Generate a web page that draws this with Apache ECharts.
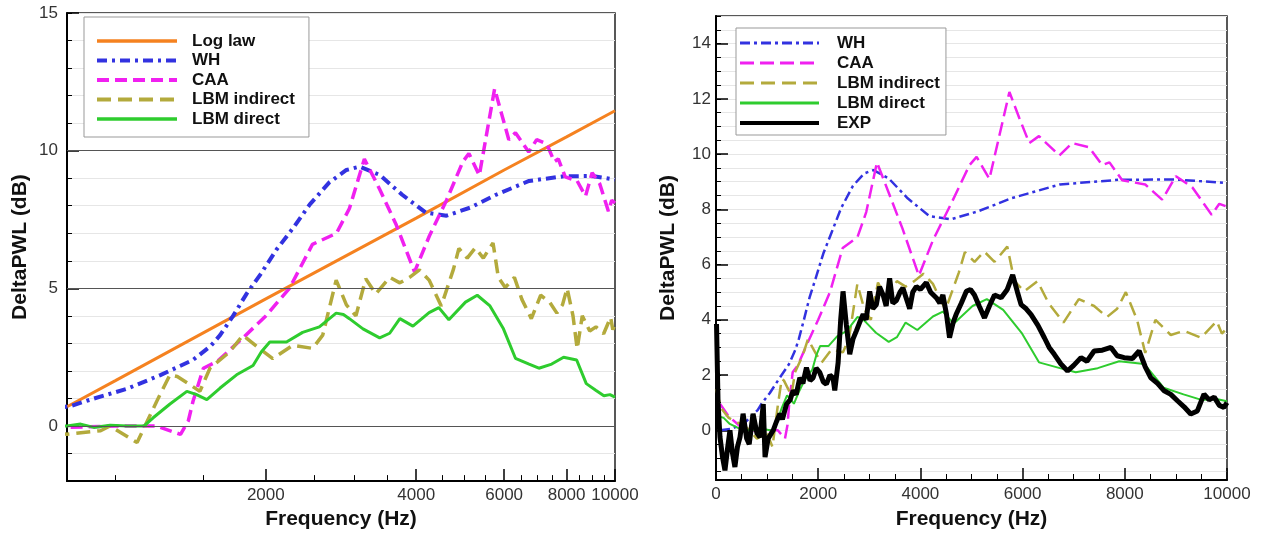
<!DOCTYPE html>
<html><head><meta charset="utf-8">
<script src="https://cdn.jsdelivr.net/npm/echarts@6/dist/echarts.min.js"></script>
<style>html,body{margin:0;padding:0;background:#fff}#c{width:1264px;height:535px}</style>
</head><body><div id="c"></div>
<script>
// ---------- data (frequency Hz, DeltaPWL dB) ----------
const logLaw = [[800,0.7],[1000,1.65],[2000,4.62],[4000,7.55],[6000,9.3],[8000,10.5],[10000,11.45]];
const wh = [[80,0],[300,0.05],[550,0.25],[815,0.73],[906,1.0],[1054,1.35],[1230,1.85],[1430,2.4],[1550,2.9],[1620,3.3],[1720,4.0],[1830,4.8],[1950,5.5],[2100,6.4],[2270,7.2],[2450,8.05],[2680,8.85],[2900,9.3],[3080,9.42],[3380,9.12],[3750,8.4],[4180,7.75],[4600,7.64],[5130,7.93],[5780,8.4],[6730,8.9],[7890,9.07],[9000,9.08],[10000,8.95]];
const caa = [[80,0.95],[250,0.5],[500,0.1],[800,-0.05],[1000,0],[1210,0],[1300,-0.2],[1350,-0.3],[1400,0.2],[1430,0.9],[1500,2.1],[1600,2.35],[1800,3.2],[2000,4.0],[2230,5.0],[2480,6.6],[2770,7.0],[2940,7.9],[3150,9.7],[3380,8.6],[3650,7.3],[3970,5.6],[4250,6.9],[4600,8.2],[4960,9.6],[5100,9.9],[5350,9.1],[5742,12.25],[5937,11.3],[6130,10.4],[6320,10.65],[6720,9.95],[6970,10.4],[7300,10.25],[7560,9.6],[7700,9.7],[7950,9.05],[8400,8.9],[8730,8.35],[9000,9.2],[9320,8.8],[9700,7.8],[9850,8.2],[10000,8.1]];
const lbmIndirect = [[0,1.5],[100,0.8],[250,0.45],[400,0.3],[600,0.1],[800,-0.3],[934,-0.17],[975,0],[1105,-0.6],[1210,0.9],[1286,1.86],[1330,1.8],[1411,1.5],[1476,1.26],[1546,2.1],[1695,2.7],[1800,3.3],[1946,2.8],[2065,2.45],[2264,2.93],[2482,2.82],[2600,3.3],[2766,5.3],[2900,4.4],[3030,4.0],[3170,5.35],[3320,4.8],[3540,5.4],[3710,5.2],[3880,5.4],[4060,5.67],[4245,5.3],[4490,4.36],[4750,5.7],[4870,6.45],[5060,6.1],[5250,6.47],[5450,6.1],[5700,6.65],[5840,5.4],[6030,5.03],[6290,5.4],[6510,4.6],[6800,3.9],[7100,4.75],[7400,4.5],[7650,4.1],[7850,4.4],[8020,5.0],[8240,4.0],[8400,2.8],[8600,4.0],[8900,3.45],[9160,3.6],[9490,3.35],[9800,3.95],[9900,3.5],[10000,3.7]];
const lbmDirect = [[60,0.5],[150,0.45],[270,0.23],[470,0.05],[650,0],[800,0],[852,0.07],[905,-0.05],[976,0.03],[1056,0],[1140,0],[1190,0.3],[1286,0.8],[1390,1.26],[1450,1.15],[1524,0.96],[1620,1.38],[1748,1.86],[1886,2.2],[1960,2.7],[2037,3.05],[2200,3.05],[2370,3.4],[2560,3.6],[2766,4.1],[2860,4.05],[2940,3.9],[3130,3.53],[3380,3.2],[3540,3.37],[3710,3.9],[3940,3.63],[4245,4.12],[4440,4.3],[4650,3.86],[5020,4.5],[5300,4.75],[5620,4.36],[5980,3.53],[6320,2.46],[6730,2.25],[7040,2.1],[7470,2.25],[7890,2.5],[8380,2.4],[8760,1.54],[9150,1.3],[9500,1.1],[9770,1.14],[10000,1.05]];
const exp = [[10,3.85],[40,1.0],[78,-0.25],[130,-1.0],[175,-1.45],[230,-0.6],[273,0],[320,-0.8],[370,-1.33],[420,-0.6],[470,-0.25],[530,0.6],[600,-0.3],[650,-0.5],[725,0.6],[800,-0.1],[860,-0.25],[925,0.95],[960,-0.97],[1020,-0.3],[1120,0],[1180,0.3],[1250,0.6],[1300,0.4],[1380,0.95],[1450,1.1],[1510,1.44],[1570,1.3],[1640,1.9],[1700,1.7],[1770,2.27],[1840,1.8],[1900,1.9],[1960,2.25],[2030,2.1],[2100,1.75],[2160,1.67],[2230,2.0],[2290,1.9],[2324,1.44],[2390,2.45],[2440,4.0],[2486,5.03],[2550,3.83],[2617,2.75],[2680,3.3],[2747,3.6],[2810,3.9],[2880,4.2],[2940,4.0],[3008,5.03],[3070,4.4],[3138,4.55],[3200,5.2],[3270,4.9],[3330,4.5],[3398,5.5],[3460,4.6],[3530,4.7],[3600,5.0],[3658,5.15],[3720,4.8],[3790,4.4],[3850,5.0],[3920,5.2],[4000,5.1],[4115,5.35],[4200,5.0],[4310,4.8],[4380,4.6],[4440,4.9],[4510,4.2],[4570,3.35],[4640,3.9],[4700,4.2],[4800,4.6],[4900,5.03],[4980,5.1],[5058,4.9],[5150,4.5],[5254,4.07],[5350,4.5],[5450,4.9],[5580,4.8],[5700,5.1],[5806,5.63],[5900,5.0],[5970,4.55],[6070,4.4],[6166,4.19],[6300,3.8],[6426,3.35],[6520,3.0],[6620,2.75],[6750,2.4],[6880,2.15],[7000,2.35],[7142,2.63],[7260,2.5],[7400,2.87],[7560,2.9],[7728,3.0],[7850,2.7],[7988,2.63],[8150,2.6],[8281,2.87],[8400,2.3],[8510,1.9],[8640,1.7],[8770,1.43],[8900,1.3],[9030,1.07],[9160,0.85],[9290,0.59],[9420,0.7],[9550,1.31],[9650,1.1],[9750,1.2],[9850,0.9],[9940,0.83],[10000,1.0]];

// ---------- tick labels ----------
const leftXLabels = [2000,4000,6000,8000,10000];
const leftXMinor = [1000,1500,2500,3000,3500,4500,5000,5500,6500,7000,7500,8500,9000,9500];
const leftYMajor = [0,5,10,15];
const leftYDark = [0,5,10];
const rightYMajor = [0,2,4,6,8,10,12,14];
const rightYMinor = [-1.5,-1,-0.5,0,0.5,1,1.5,2,2.5,3,3.5,4,4.5,5,5.5,6,6.5,7,7.5,8,8.5,9,9.5,10,10.5,11,11.5,12,12.5,13,13.5,14,14.5,15];

const FONT = 'Liberation Sans';
const C = {log:'#f58220', wh:'#3232e0', caa:'#f020f0', lbi:'#b3aa3c', lbd:'#2ecc2e', exp:'#000'};
const labelStyle = {fontFamily:FONT, fontSize:17, color:'#333'};
const nameStyle = {fontFamily:FONT, fontSize:21, fontWeight:'bold', color:'#111'};
const plain = v => String(v);

const chart = echarts.init(document.getElementById('c'), null, {renderer:'canvas'});
const line = (name, data, color, width, type, xi, yi, z) => ({
  type:'line', name, data, xAxisIndex:xi, yAxisIndex:yi, symbol:'none', z:z||2,
  lineStyle:{color, width, type}, itemStyle:{color}, clip:true, silent:true
});
const legItem = (name, width) => ({name, lineStyle:{width}});
const legendText = {fontFamily:FONT, fontSize:17, fontWeight:'bold', color:'#111', lineHeight:17};

chart.setOption({
  animation:false,
  backgroundColor:'#fff',
  grid:[
    {left:67, right:649, top:13, bottom:47, show:true, borderColor:'#222', borderWidth:1.5, backgroundColor:'transparent'},
    {left:716, right:37, top:16, bottom:53, show:true, borderColor:'#222', borderWidth:1.5, backgroundColor:'transparent'}
  ],
  legend:[
    {left:84, top:17, orient:'vertical', itemWidth:80, itemHeight:14, itemGap:2.5,
     padding:[15.5,14,9.5,11], backgroundColor:'#fff', borderColor:'#999', borderWidth:1,
     itemStyle:{opacity:0},
     textStyle:{...legendText, padding:[0,0,0,10]},
     data:[legItem('Log law',3.5),legItem('WH',4),legItem('CAA',4),legItem('LBM indirect',4),legItem('LBM direct',3.5)]},
    {left:736, top:28, orient:'vertical', itemWidth:79, itemHeight:14, itemGap:3,
     padding:[6.5,6,3.5,2], backgroundColor:'#fff', borderColor:'#999', borderWidth:1,
     itemStyle:{opacity:0},
     formatter:n=>n.replace(/_r$/,''),
     textStyle:{...legendText, padding:[0,0,0,13]},
     data:[legItem('WH_r',3),legItem('CAA_r',3),legItem('LBM indirect_r',3),legItem('LBM direct_r',3),legItem('EXP_r',4)]}
  ],
  xAxis:[
    {gridIndex:0, type:'log', logBase:10, min:800, max:10000, position:'bottom',
     name:'Frequency (Hz)', nameLocation:'middle', nameGap:24, nameTextStyle:nameStyle,
     axisLine:{show:true, onZero:false, lineStyle:{color:'#000', width:2}},
     axisTick:{show:true, inside:true, length:12, customValues:leftXLabels, lineStyle:{color:'#000', width:1.5}},
     axisLabel:{customValues:leftXLabels, margin:6, formatter:plain, ...labelStyle},
     splitLine:{show:false}, minorTick:{show:false}, minorSplitLine:{show:false}},
    {gridIndex:0, type:'log', logBase:10, min:800, max:10000, position:'bottom',
     axisLine:{show:false, onZero:false},
     axisTick:{show:true, inside:true, length:6, customValues:leftXMinor, lineStyle:{color:'#000', width:1}},
     axisLabel:{show:false}, splitLine:{show:false}},
    {gridIndex:1, type:'value', min:0, max:10000, interval:2000, position:'bottom',
     name:'Frequency (Hz)', nameLocation:'middle', nameGap:29, nameTextStyle:nameStyle,
     axisLine:{show:true, onZero:false, lineStyle:{color:'#000', width:2}},
     axisTick:{show:true, inside:true, length:12, lineStyle:{color:'#000', width:1.5}},
     minorTick:{show:true, splitNumber:4, length:6, lineStyle:{color:'#000', width:1}},
     axisLabel:{margin:6, formatter:plain, ...labelStyle},
     splitLine:{show:false}}
  ],
  yAxis:[
    {gridIndex:0, type:'value', min:-2, max:15, interval:1, position:'left',
     name:'DeltaPWL (dB)', nameLocation:'middle', nameGap:36, nameTextStyle:nameStyle,
     axisLine:{show:true, onZero:false, lineStyle:{color:'#000', width:2}},
     axisTick:{show:true, inside:true, length:5, lineStyle:{color:'#000', width:1}},
     axisLabel:{margin:9, formatter:v=>(leftYMajor.indexOf(v)>=0 ? String(v) : ''), ...labelStyle},
     splitLine:{show:true, lineStyle:{color:'#e6e6e6', width:1}}},
    {gridIndex:0, type:'value', min:-2, max:15, position:'left',
     axisLine:{show:false, onZero:false},
     axisTick:{show:true, inside:true, length:12, customValues:leftYMajor, lineStyle:{color:'#000', width:1.5}},
     axisLabel:{show:false}, splitLine:{show:false}},
    {gridIndex:1, type:'value', min:-1.8, max:15, position:'left',
     name:'DeltaPWL (dB)', nameLocation:'middle', nameGap:37, nameTextStyle:nameStyle,
     axisLine:{show:true, onZero:false, lineStyle:{color:'#000', width:2}},
     axisTick:{show:true, inside:true, length:5, customValues:rightYMinor, lineStyle:{color:'#000', width:1}},
     axisLabel:{show:false},
     splitLine:{show:true, lineStyle:{color:'#e6e6e6', width:1}}},
    {gridIndex:1, type:'value', min:-1.8, max:15, position:'left',
     axisLine:{show:false, onZero:false},
     axisTick:{show:true, inside:true, length:12, customValues:rightYMajor, lineStyle:{color:'#000', width:1.5}},
     axisLabel:{customValues:rightYMajor, margin:5, ...labelStyle},
     splitLine:{show:false}}
  ],
  series:[
    {type:'line', name:'refLines', data:[], xAxisIndex:0, yAxisIndex:0, z:1, silent:true,
     markLine:{silent:true, symbol:['none','none'], label:{show:false}, animation:false,
       lineStyle:{color:'#555', type:'solid', width:1},
       data:leftYDark.map(v=>({yAxis:v}))}},
    line('Log law', logLaw, C.log, 3, 'solid', 0, 0),
    line('WH', wh, C.wh, 4, [10,5,3,5], 0, 0),
    line('CAA', caa, C.caa, 3.5, [12,6], 0, 0),
    line('LBM indirect', lbmIndirect, C.lbi, 3.5, [14,7], 0, 0),
    line('LBM direct', lbmDirect, C.lbd, 3, 'solid', 0, 0),
    line('WH_r', wh, C.wh, 2.5, [10,4,3,4], 2, 2),
    line('CAA_r', caa, C.caa, 2.5, [14,6], 2, 2),
    line('LBM indirect_r', lbmIndirect, C.lbi, 2.5, [14,7], 2, 2),
    line('LBM direct_r', lbmDirect, C.lbd, 2, 'solid', 2, 2),
    line('EXP_r', exp, C.exp, 5, 'solid', 2, 2, 3)
  ]
});
</script></body></html>
